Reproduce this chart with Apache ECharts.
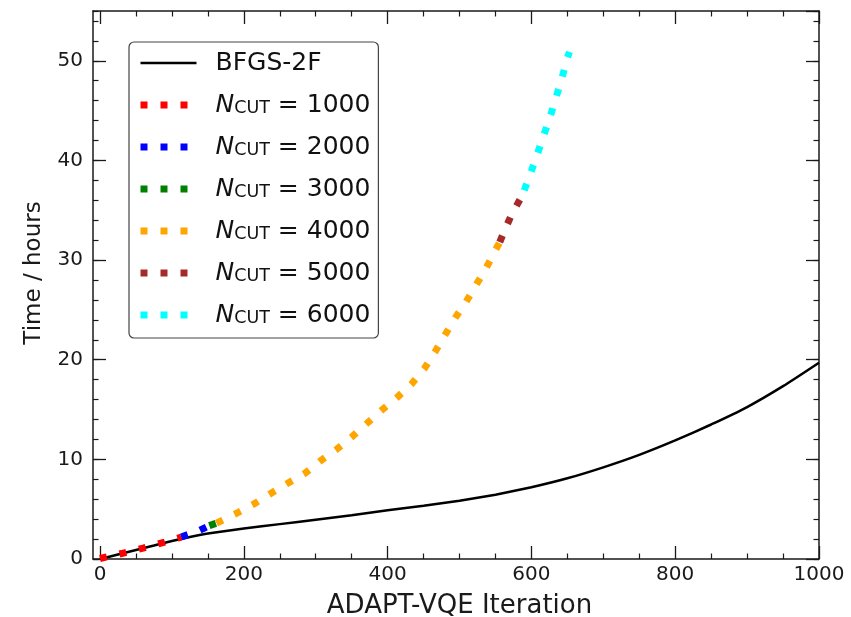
<!DOCTYPE html>
<html>
<head>
<meta charset="utf-8">
<script src="https://cdn.jsdelivr.net/npm/echarts@6/dist/echarts.min.js"></script>
<style>html,body{margin:0;padding:0;background:#fff}#c{width:851px;height:617px}</style>
</head>
<body>
<div id="c"></div>
<script>
// ---- data ----
const bfgsX = [0, 25, 50, 75, 100, 125, 150, 200, 250, 300, 350, 400, 450, 500, 550, 600, 650, 700, 750, 800, 850, 900, 950, 1000];
const bfgsY = [0, 0.45, 0.9, 1.35, 1.8, 2.2, 2.55, 3.05, 3.5, 3.95, 4.4, 4.9, 5.35, 5.85, 6.45, 7.2, 8.1, 9.2, 10.45, 11.9, 13.5, 15.25, 17.35, 19.7];

const n1000X = [0, 30, 60, 90, 113];
const n1000Y = [0.05, 0.55, 1.1, 1.7, 2.2];
const n2000X = [113, 139, 152];
const n2000Y = [2.2, 2.9, 3.35];
const n3000X = [152, 162];
const n3000Y = [3.35, 3.6];
const n4000X = [162, 190, 214, 238, 261, 285, 307, 329, 351, 371, 392, 413, 433, 451, 466, 480, 494, 509, 523, 537, 550, 556];
const n4000Y = [3.6, 4.59, 5.52, 6.6, 7.6, 8.6, 9.87, 11.0, 12.3, 13.6, 14.95, 16.2, 17.55, 19.1, 20.8, 22.5, 24.2, 25.8, 27.5, 29.2, 31.0, 31.8];
const n5000X = [556, 561, 572, 585, 590];
const n5000Y = [31.8, 32.7, 34.5, 36.2, 37.0];
const n6000X = [590, 600, 609, 618, 627, 635, 643, 650, 653];
const n6000Y = [37.0, 38.95, 40.8, 42.7, 44.6, 46.5, 48.4, 50.3, 50.9];

const ncutLabels = ['1000', '2000', '3000', '4000', '5000', '6000'];
const ncutColors = ['#ff0000', '#0000ff', '#008000', '#ffa500', '#a52a2a', '#00ffff'];
const xTicks = [0, 200, 400, 600, 800, 1000];
const yTicks = [0, 10, 20, 30, 40, 50];

// ---- chart ----
const FONT = 'DejaVu Sans';
const AX = '#1a1a1a';
const pairs = (xs, ys) => xs.map((x, i) => [x, ys[i]]);
const ncutData = [pairs(n1000X, n1000Y), pairs(n2000X, n2000Y), pairs(n3000X, n3000Y),
                  pairs(n4000X, n4000Y), pairs(n5000X, n5000Y), pairs(n6000X, n6000Y)];

const dash = [7, 13];
const series = [{
  name: 'BFGS-2F', type: 'line', xAxisIndex: 2, yAxisIndex: 4,
  data: pairs(bfgsX, bfgsY), showSymbol: false, symbol: 'none', smooth: 0.15, clip: false,
  itemStyle: { color: '#000' },
  lineStyle: { color: '#000', width: 2.5 }, z: 3, silent: true
}];
ncutLabels.forEach((lab, i) => {
  series.push({
    name: 'N' + lab, type: 'line', xAxisIndex: 2, yAxisIndex: 4,
    data: ncutData[i], showSymbol: false, symbol: 'none', clip: false,
    itemStyle: { color: ncutColors[i] },
    lineStyle: { color: ncutColors[i], width: 7, type: dash, cap: 'butt' }, z: 4, silent: true
  });
});

const hideAll = { axisLabel: { show: false }, axisTick: { show: false }, splitLine: { show: false }, axisLine: { show: false } };
const frameLine = { show: true, onZero: false, lineStyle: { color: AX, width: 1.5 } };

const option = {
  animation: false,
  backgroundColor: '#fff',
  grid: [
    { left: 93, right: 32, top: 11, bottom: 58, outerBoundsMode: 'none', containLabel: false },
    { left: 100, right: 32, top: 11, bottom: 58, outerBoundsMode: 'none', containLabel: false }
  ],
  xAxis: [
    { type: 'value', gridIndex: 0, position: 'bottom', min: -10, max: 1000, ...hideAll, axisLine: frameLine },
    { type: 'value', gridIndex: 0, position: 'top', min: -10, max: 1000, ...hideAll, axisLine: frameLine },
    { type: 'value', gridIndex: 1, position: 'bottom', min: 0, max: 1000, interval: 200,
      axisLine: { show: false, onZero: false },
      axisTick: { show: true, inside: true, length: 13, lineStyle: { color: AX, width: 1.3 } },
      minorTick: { show: true, splitNumber: 4, length: 5.5, lineStyle: { color: AX, width: 1.2 } },
      splitLine: { show: false }, minorSplitLine: { show: false },
      axisLabel: { show: true, margin: 6, fontSize: 20, fontFamily: FONT, color: AX,
        formatter: v => xTicks.includes(v) ? String(v) : '' },
      name: 'ADAPT-VQE Iteration', nameLocation: 'middle', nameGap: 34,
      nameTextStyle: { fontSize: 26, fontFamily: FONT, color: AX } },
    { type: 'value', gridIndex: 1, position: 'top', min: 0, max: 1000, interval: 200,
      axisLine: { show: false, onZero: false },
      axisTick: { show: true, inside: true, length: 13, lineStyle: { color: AX, width: 1.3 } },
      minorTick: { show: true, splitNumber: 4, length: 5.5, lineStyle: { color: AX, width: 1.2 } },
      splitLine: { show: false }, axisLabel: { show: false } }
  ],
  yAxis: [
    { type: 'value', gridIndex: 0, position: 'left', min: 0, max: 55, interval: 10,
      axisLine: frameLine,
      axisTick: { show: true, inside: true, length: 13, lineStyle: { color: AX, width: 1.3 } },
      splitLine: { show: false },
      axisLabel: { show: true, margin: 10, fontSize: 20, fontFamily: FONT, color: AX, showMaxLabel: false,
        formatter: v => yTicks.includes(v) ? String(v) : '' },
      name: 'Time / hours', nameLocation: 'middle', nameGap: 47,
      nameTextStyle: { fontSize: 23, fontFamily: FONT, color: AX, padding: [0, 0, 0, 24] } },
    { type: 'value', gridIndex: 0, position: 'left', min: 0, max: 55, interval: 2,
      axisLine: { show: false, onZero: false },
      axisTick: { show: true, inside: true, length: 5.5, lineStyle: { color: AX, width: 1.2 } },
      splitLine: { show: false }, axisLabel: { show: false } },
    { type: 'value', gridIndex: 0, position: 'right', min: 0, max: 55, interval: 10,
      axisLine: frameLine,
      axisTick: { show: true, inside: true, length: 13, lineStyle: { color: AX, width: 1.3 } },
      splitLine: { show: false }, axisLabel: { show: false } },
    { type: 'value', gridIndex: 0, position: 'right', min: 0, max: 55, interval: 2,
      axisLine: { show: false, onZero: false },
      axisTick: { show: true, inside: true, length: 5.5, lineStyle: { color: AX, width: 1.2 } },
      splitLine: { show: false }, axisLabel: { show: false } },
    { type: 'value', gridIndex: 1, min: 0, max: 55, show: false, splitLine: { show: false } }
  ],
  legend: {
    show: true, orient: 'vertical', left: 129, top: 42,
    padding: [7, 8, 9, 8], itemGap: 14, itemWidth: 56, itemHeight: 14,
    backgroundColor: '#fff', borderColor: '#444', borderWidth: 1.2, borderRadius: 5,
    selectedMode: false,
    itemStyle: { opacity: 0, borderWidth: 0 },
    data: [{ name: 'BFGS-2F', itemStyle: { opacity: 0 }, lineStyle: { width: 2.5, color: '#000', type: 'solid' } }].concat(
      ncutLabels.map((lab, i) => ({ name: 'N' + lab, itemStyle: { opacity: 0 }, lineStyle: { width: 7, color: ncutColors[i], type: dash } }))),
    formatter: name => name === 'BFGS-2F' ? '{b|BFGS-2F}' : '{i|N}{s|CUT}{t| = ' + name.slice(1) + '}',
    textStyle: {
      fontFamily: FONT, fontSize: 25, color: '#111', lineHeight: 28,
      rich: {
        b: { fontFamily: FONT, fontSize: 25, color: '#111', lineHeight: 28, padding: [0, 0, 0, 14] },
        i: { fontFamily: FONT, fontSize: 25, fontStyle: 'italic', color: '#111', lineHeight: 28, padding: [0, 0, 0, 14] },
        s: { fontFamily: FONT, fontSize: 17.5, color: '#111', lineHeight: 20, padding: [7, 0, 0, 0] },
        t: { fontFamily: FONT, fontSize: 25, color: '#111', lineHeight: 28 }
      }
    }
  },
  series: series
};
const chart = echarts.init(document.getElementById('c'), null, { renderer: 'canvas' });
chart.setOption(option);
</script>
</body>
</html>
